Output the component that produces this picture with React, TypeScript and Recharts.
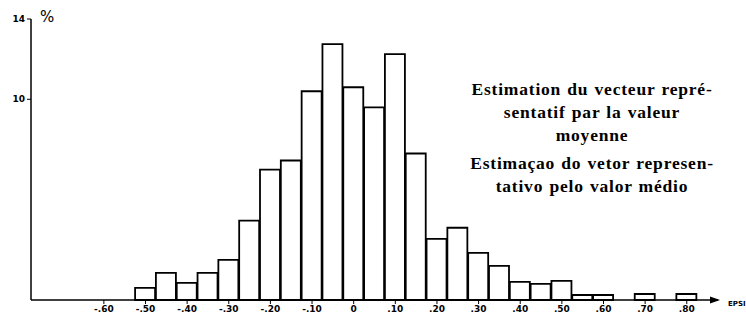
import { BarChart, Bar, XAxis, YAxis } from 'recharts';

// epsilon bins (centre of each 0.05 class) and percentage of cases
const EPSI = [-0.5, -0.45, -0.4, -0.35, -0.3, -0.25, -0.2, -0.15, -0.1, -0.05, 0, 0.05, 0.1, 0.15, 0.2, 0.25, 0.3, 0.35, 0.4, 0.45, 0.5, 0.55, 0.6, 0.65, 0.7, 0.75, 0.8];
const PCT = [0.6, 1.35, 0.85, 1.35, 2.0, 3.95, 6.5, 6.95, 10.4, 12.75, 10.6, 9.6, 12.25, 7.3, 3.05, 3.6, 2.35, 1.7, 0.9, 0.8, 0.95, 0.25, 0.25, 0, 0.3, 0, 0.3];

const X_TICKS = [-0.6, -0.5, -0.4, -0.3, -0.2, -0.1, 0, 0.1, 0.2, 0.3, 0.4, 0.5, 0.6, 0.7, 0.8];
const Y_TICKS = [10, 14];

const FR_LINES = ['Estimation du vecteur repré-', 'sentatif par la valeur', 'moyenne'];
const PT_LINES = ['Estimaçao do vetor represen-', 'tativo pelo valor médio'];

const data = EPSI.map((x, i) => ({ x, pct: PCT[i] }));

const fmtX = (v: number) => {
  if (v === 0) return '0';
  const s = Math.abs(v).toFixed(2).slice(1);
  return v < 0 ? '-' + s : s;
};

const ArrowLabel = (props: any) => {
  const { x, y, width } = props.viewBox;
  const end = x + width;
  return (
    <g>
      <polygon points={`${end - 8},${y - 3.5} ${end + 2},${y} ${end - 8},${y + 3.5}`} fill="#000" />
      <text x={end + 10} y={y + 6} fontSize={7} fontWeight="bold" fontFamily="DejaVu Sans" fill="#000">EPSI</text>
    </g>
  );
};

const PctLabel = (props: any) => {
  const { x, y, width } = props.viewBox;
  return (
    <text x={x + width + 9} y={y + 3} fontSize={15} fontFamily="DejaVu Sans" fill="#000">%</text>
  );
};

const textStyle: React.CSSProperties = {
  fontFamily: '"Liberation Serif", serif',
  fontSize: 17.5,
  fontWeight: 'bold',
  letterSpacing: 0.8,
  wordSpacing: 1,
  lineHeight: '23px',
  textAlign: 'center',
  color: '#000',
};

export default function App() {
  return (
    <div style={{ position: 'absolute', left: 0, top: 0, width: 746, height: 322, background: '#fff' }}>
      <BarChart width={746} height={322} data={data} margin={{ top: 19, right: 28, bottom: 0, left: 0 }}>
        <XAxis
          type="number"
          dataKey="x"
          domain={[-0.775, 0.875]}
          ticks={X_TICKS}
          tickFormatter={fmtX}
          allowDataOverflow
          height={22}
          tickSize={4}
          tick={{ fill: '#000', fontSize: 9, fontWeight: 'bold', fontFamily: 'DejaVu Sans' }}
          axisLine={{ stroke: '#000', strokeWidth: 1.5 }}
          tickLine={{ stroke: '#000' }}
          label={{ content: ArrowLabel }}
        />
        <YAxis
          type="number"
          domain={[0, 14]}
          ticks={Y_TICKS}
          width={31}
          tickSize={4}
          tick={{ fill: '#000', fontSize: 9, fontWeight: 'bold', fontFamily: 'DejaVu Sans' }}
          axisLine={{ stroke: '#000', strokeWidth: 1.5 }}
          tickLine={{ stroke: '#000' }}
          label={{ content: PctLabel }}
        />
        <Bar dataKey="pct" fill="#fff" stroke="#000" strokeWidth={1.8} barSize={20} isAnimationActive={false} />
      </BarChart>
      <div style={{ ...textStyle, position: 'absolute', left: 432, width: 320, top: 78 }}>
        {FR_LINES.map((l) => <div key={l}>{l}</div>)}
      </div>
      <div style={{ ...textStyle, position: 'absolute', left: 432, width: 320, top: 152 }}>
        {PT_LINES.map((l) => <div key={l}>{l}</div>)}
      </div>
    </div>
  );
}
